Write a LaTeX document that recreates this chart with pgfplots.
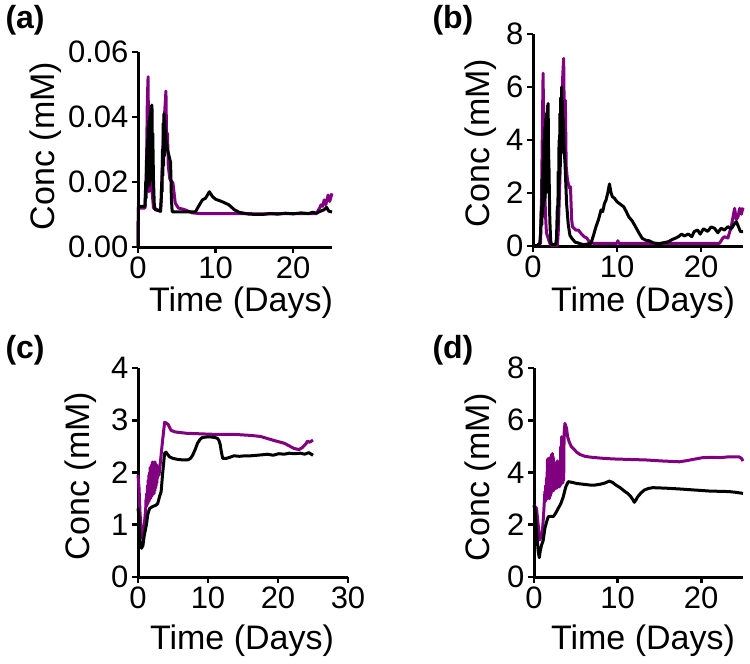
\documentclass[border=0pt]{standalone}
\usepackage{fontspec}
\setmainfont{Liberation Sans}
\usepackage{pgfplots}
\pgfplotsset{compat=1.18}
\definecolor{pur}{RGB}{128,0,128}
\pgfplotsset{panel/.style={
  scale only axis, anchor=south west,
  axis lines*=left,
  axis line style={line width=3pt},
  tick style={line width=2.6pt, black},
  major tick length=6pt,
  tick align=outside,
  xmin=0, xmax=25, ymin=0,
  clip=false,
  scaled y ticks=false, scaled x ticks=false,
  tick label style={font=\fontsize{31}{36}\selectfont},
  /pgf/number format/assume math mode=true,
  xtick={0,10,20}, xticklabels={0,10,20},
  every axis plot/.append style={line width=3pt, line join=round},
}}
\newcommand{\lblfont}{\fontsize{34}{40}\selectfont}
\newcommand{\panfont}{\bfseries\fontsize{32}{38}\selectfont}
\begin{document}
\begin{tikzpicture}
\path[use as bounding box] (0pt,0pt) rectangle (750pt,-664pt);
% ---------------- (a)
\begin{axis}[panel, at={(138pt,-247pt)}, width=194pt, height=195pt,
  ymax=0.06, ytick={0,0.02,0.04,0.06}, yticklabels={0.00,0.02,0.04,0.06}]
\addplot[pur] coordinates {(0,0) (0.05,0.012) (0.9,0.012) (1.1,0.025) (1.2,0.045) (1.3,0.0524) (1.35,0.035) (1.4,0.017) (1.45,0.03) (1.5,0.018) (1.7,0.02) (2.0,0.012) (2.9,0.011)
 (3.0,0.015) (3.2,0.03) (3.4,0.04) (3.6,0.048) (3.7,0.03) (3.8,0.035) (3.9,0.025) (4.1,0.021) (4.5,0.0197) (4.8,0.0135) (5.2,0.012) (6,0.0115) (7,0.0105) (8,0.0103) (12,0.0103) (16,0.0102) (20,0.0103) (23,0.0103) (23.4,0.012) (23.6,0.013) (23.8,0.0125) (24.0,0.0145) (24.2,0.013) (24.5,0.016) (24.7,0.014) (25,0.0165)};
\addplot[black] coordinates {(0,0) (0.05,0.0125) (0.9,0.0125) (1.0,0.02) (1.05,0.015) (1.1,0.028) (1.15,0.018) (1.2,0.033) (1.25,0.02) (1.3,0.037) (1.35,0.02) (1.4,0.039) (1.45,0.019) (1.5,0.040) (1.55,0.02) (1.6,0.042) (1.65,0.022) (1.7,0.0435) (1.75,0.025) (1.8,0.0437) (1.85,0.03) (1.9,0.035) (2.0,0.02) (2.1,0.013) (2.2,0.0115)
 (2.9,0.011) (3.0,0.015) (3.05,0.02) (3.1,0.017) (3.15,0.03) (3.2,0.022) (3.25,0.038) (3.3,0.025) (3.35,0.041) (3.4,0.028) (3.45,0.039) (3.5,0.03) (3.55,0.036) (3.6,0.033) (3.8,0.03) (4.0,0.028) (4.2,0.026) (4.3,0.015) (4.4,0.011) (4.5,0.0108)
 (7.4,0.0108) (7.8,0.0125) (8.3,0.0145) (8.7,0.015) (9.2,0.017) (9.6,0.0155) (10,0.0147) (10.8,0.014) (11.7,0.013) (12.4,0.0115) (13,0.0107) (14.3,0.0101) (16,0.0100) (17,0.0103) (18,0.0101) (19,0.0104) (20,0.0102) (21,0.0105) (22,0.0103) (22.5,0.0107) (23,0.0104) (23.5,0.011) (24,0.0115) (24.3,0.0122) (24.6,0.011) (25,0.0108)};
\end{axis}
% ---------------- (b)
\begin{axis}[panel, at={(533pt,-246pt)}, width=210pt, height=212pt,
  ymax=8, ytick={0,2,4,6,8}, yticklabels={0,2,4,6,8}]
\addplot[pur] coordinates {(0,0) (0.5,0.02) (0.9,0.1) (1.0,1.5) (1.1,4.0) (1.2,6.52) (1.3,3.5) (1.35,1.1) (1.4,2.0) (1.5,1.1) (1.6,0.5) (1.8,0.3) (2.0,0.1) (2.2,0.02) (2.9,0.02) (3.0,0.5) (3.2,2.5) (3.4,5.0) (3.55,6.5) (3.65,7.08) (3.75,4.0) (3.85,5.5) (3.95,3.0) (4.1,2.5) (4.3,2.2) (4.46,2.24) (4.6,1.0) (4.7,0.73) (5.1,0.6) (5.4,0.6) (5.7,0.48) (6.1,0.35) (6.4,0.3) (6.7,0.16) (7.2,0.1) (10.0,0.1) (10.1,0.2) (10.2,0.1) (22.2,0.1) (22.6,0.3) (22.8,0.35) (23.2,0.3) (23.6,0.73) (24.0,1.42) (24.2,1.0) (24.4,1.1) (24.6,1.42) (24.8,1.2) (25,1.45)};
\addplot[black] coordinates {(0,0.0) (0.5,0.02) (0.8,0.1) (0.9,0.5) (1.0,1.5) (1.05,0.8) (1.1,2.5) (1.15,1.2) (1.2,3.2) (1.25,1.5) (1.3,4.0) (1.35,1.7) (1.4,4.5) (1.45,1.8) (1.5,4.8) (1.55,2.0) (1.6,5.0) (1.65,2.5) (1.7,5.3) (1.75,3.0) (1.8,5.38) (1.85,3.5) (1.9,3.0) (2.0,1.0) (2.1,0.2) (2.2,0.05) (2.7,0.05) (2.8,0.3) (2.9,1.5) (2.95,0.8) (3.0,2.8) (3.05,1.5) (3.1,4.0) (3.15,2.5) (3.2,5.0) (3.25,3.0) (3.3,5.6) (3.35,3.5) (3.4,6.0) (3.45,3.6) (3.5,5.5) (3.55,3.8) (3.6,4.8) (3.7,3.6) (3.8,3.2) (3.9,2.4) (4.0,1.6) (4.2,0.8) (4.4,0.4) (4.6,0.3) (5.0,0.15) (5.5,0.1) (6.0,0.05) (6.9,0.1) (7.2,0.4) (7.5,0.73) (7.8,1.0) (8.1,1.36) (8.3,1.3) (8.5,1.6) (8.7,1.74) (8.9,2.0) (9.1,2.34) (9.3,2.0) (9.45,1.86) (9.7,1.8) (10.0,1.67) (10.3,1.6) (10.5,1.55) (10.8,1.48) (11.1,1.3) (11.4,1.1) (11.8,0.95) (12.2,0.73) (12.6,0.5) (13.0,0.29) (13.4,0.22) (13.8,0.2) (14.3,0.12) (14.9,0.08) (15.5,0.12) (16.1,0.16) (16.6,0.25) (17.0,0.3) (17.3,0.35) (17.7,0.45) (18.0,0.38) (18.5,0.45) (18.9,0.35) (19.2,0.55) (19.6,0.6) (19.9,0.45) (20.3,0.65) (20.8,0.55) (21.2,0.72) (21.6,0.67) (22.0,0.5) (22.4,0.67) (22.8,0.6) (23.2,0.73) (23.6,0.65) (24.0,0.85) (24.2,0.92) (24.5,0.7) (24.7,0.54) (25.0,0.55)};
\end{axis}
% ---------------- (c)
\begin{axis}[panel, at={(138pt,-577pt)}, width=210pt, height=209pt,
  xmax=30, xtick={0,10,20,30}, xticklabels={0,10,20,30},
  ymax=4, ytick={0,1,2,3,4}, yticklabels={0,1,2,3,4}]
\addplot[pur] coordinates {(0,1.95) (0.15,1.7) (0.3,1.2) (0.47,0.87) (0.7,0.74) (0.9,1.0)
 (1.10,1.3) (1.15,1.5) (1.20,1.35) (1.25,1.6) (1.30,1.38) (1.35,1.75) (1.40,1.4) (1.45,1.85) (1.50,1.45) (1.55,1.95) (1.60,1.45) (1.65,2.0) (1.70,1.5) (1.75,2.1) (1.80,1.5) (1.85,2.05) (1.90,1.55) (1.95,2.15) (2.00,1.55) (2.05,2.2) (2.10,1.6) (2.15,2.2) (2.20,1.6) (2.25,2.15) (2.30,1.6) (2.35,2.2) (2.40,1.65) (2.45,2.2) (2.50,1.7) (2.55,2.1) (2.60,1.75) (2.65,2.15) (2.70,1.8) (2.75,2.05) (2.80,1.9) (2.9,2.0) (3.0,1.95)
 (3.2,2.2) (3.5,2.6) (3.8,2.96) (4.0,2.95) (4.3,2.92) (4.7,2.81) (5.2,2.78) (5.7,2.77) (7,2.75) (9.0,2.74) (11,2.73) (13.7,2.73) (16.1,2.71) (17.5,2.69) (18.5,2.65) (19.5,2.61) (20.9,2.56) (21.6,2.51) (22.3,2.46) (23.0,2.44) (23.5,2.48) (23.7,2.51) (24.0,2.55) (24.2,2.6) (24.5,2.58) (25.0,2.62)};
\addplot[black] coordinates {(0,1.31) (0.1,1.2) (0.3,0.7) (0.5,0.55) (0.7,0.6) (0.9,0.8) (1.2,1.0) (1.4,1.2) (1.65,1.31) (2.1,1.35) (2.5,1.37) (2.8,1.40) (3.1,1.55) (3.3,1.63) (3.5,1.95) (3.8,2.37) (4.0,2.39) (4.2,2.35) (4.5,2.30) (5.0,2.27) (5.7,2.25) (6.5,2.24) (7.1,2.24) (7.5,2.27) (7.8,2.33) (8.2,2.45) (8.5,2.56) (8.9,2.64) (9.2,2.67) (9.8,2.68) (10.4,2.68) (11.0,2.67) (11.4,2.65) (11.6,2.6) (11.75,2.53) (11.9,2.4) (12.1,2.27) (12.6,2.27) (13.1,2.29) (13.7,2.32) (14.5,2.31) (15.3,2.32) (16.1,2.32) (17,2.33) (17.8,2.34) (18.5,2.35) (19.3,2.33) (20.1,2.36) (20.9,2.35) (21.6,2.37) (22.3,2.36) (23.2,2.37) (23.8,2.35) (24.4,2.38) (25.0,2.33)};
\end{axis}
% ---------------- (d)
\begin{axis}[panel, at={(534pt,-577pt)}, width=209pt, height=209pt,
  ymax=8, ytick={0,2,4,6,8}, yticklabels={0,2,4,6,8}]
\addplot[pur] coordinates {(0,2.75) (0.3,2.63) (0.5,2.0) (0.7,1.42) (0.85,1.55) (1.0,1.73) (1.15,2.4)
 (1.30,3.27) (1.35,2.9) (1.40,3.5) (1.45,2.95) (1.50,3.8) (1.55,3.0) (1.60,4.5) (1.65,3.0) (1.70,4.54) (1.75,3.05) (1.80,3.9) (1.85,3.0) (1.90,3.7) (1.95,3.1) (2.00,4.6) (2.05,3.2) (2.10,4.7) (2.15,3.3) (2.20,4.73) (2.25,3.3) (2.30,4.6) (2.35,3.3) (2.40,4.2) (2.45,3.35) (2.50,4.3) (2.55,3.4) (2.60,4.2) (2.65,3.4) (2.70,4.4) (2.75,3.4) (2.80,4.45) (2.85,3.45) (2.90,4.4) (2.95,3.5) (3.00,4.0) (3.05,3.45) (3.10,4.1) (3.15,3.5) (3.20,5.0) (3.25,3.55) (3.30,5.37) (3.35,3.6) (3.40,5.2) (3.45,3.6) (3.50,4.6) (3.55,3.7) (3.60,5.5) (3.70,5.88)
 (3.9,5.69) (4.0,5.4) (4.2,5.18) (4.45,5.0) (4.7,4.92) (5.1,4.78) (5.5,4.69) (6.1,4.62) (6.7,4.59) (8,4.55) (9.4,4.52) (11.4,4.50) (13.4,4.48) (15.4,4.44) (17.4,4.41) (18.2,4.45) (19,4.5) (20.2,4.57) (21.5,4.58) (22.3,4.57) (23.3,4.6) (24.5,4.6) (24.8,4.55) (25.0,4.44)};
\addplot[black] coordinates {(0,2.75) (0.15,2.5) (0.3,1.73) (0.5,1.0) (0.63,0.74) (0.75,1.0) (0.9,1.22) (1.1,1.4) (1.3,1.86) (1.5,2.1) (1.7,2.31) (2.0,2.32) (2.3,2.31) (2.6,2.45) (2.9,2.63) (3.2,2.8) (3.5,3.07) (3.8,3.45) (4.1,3.65) (4.6,3.62) (5.1,3.58) (5.9,3.55) (6.7,3.52) (7.3,3.52) (7.9,3.55) (8.5,3.6) (9.0,3.67) (9.4,3.62) (9.8,3.52) (10.3,3.42) (10.8,3.29) (11.2,3.2) (11.6,3.07) (11.85,2.95) (12.0,2.86) (12.2,2.95) (12.4,3.07) (12.8,3.22) (13.2,3.33) (13.7,3.39) (14.2,3.42) (15.8,3.40) (17.4,3.37) (19.2,3.33) (21.0,3.29) (22.2,3.28) (23.3,3.27) (24.2,3.24) (25.0,3.2)};
\end{axis}
% ---------------- labels
\node[anchor=base west, font=\panfont] at (2pt,-28pt) {(a)};
\node[anchor=base west, font=\panfont] at (429pt,-28pt) {(b)};
\node[anchor=base west, font=\panfont] at (2pt,-358pt) {(c)};
\node[anchor=base west, font=\panfont] at (429pt,-358pt) {(d)};
\node[anchor=base, font=\lblfont] at (241pt,-311pt) {Time (Days)};
\node[anchor=base, font=\lblfont] at (643pt,-311pt) {Time (Days)};
\node[anchor=base, font=\lblfont] at (242pt,-649pt) {Time (Days)};
\node[anchor=base, font=\lblfont] at (643pt,-649pt) {Time (Days)};
\node[anchor=base, rotate=90, font=\lblfont] at (54pt,-146pt) {Conc (mM)};
\node[anchor=base, rotate=90, font=\lblfont] at (489pt,-143pt) {Conc (mM)};
\node[anchor=base, rotate=90, font=\lblfont] at (89pt,-476pt) {Conc (mM)};
\node[anchor=base, rotate=90, font=\lblfont] at (489pt,-477pt) {Conc (mM)};
\end{tikzpicture}
\end{document}
